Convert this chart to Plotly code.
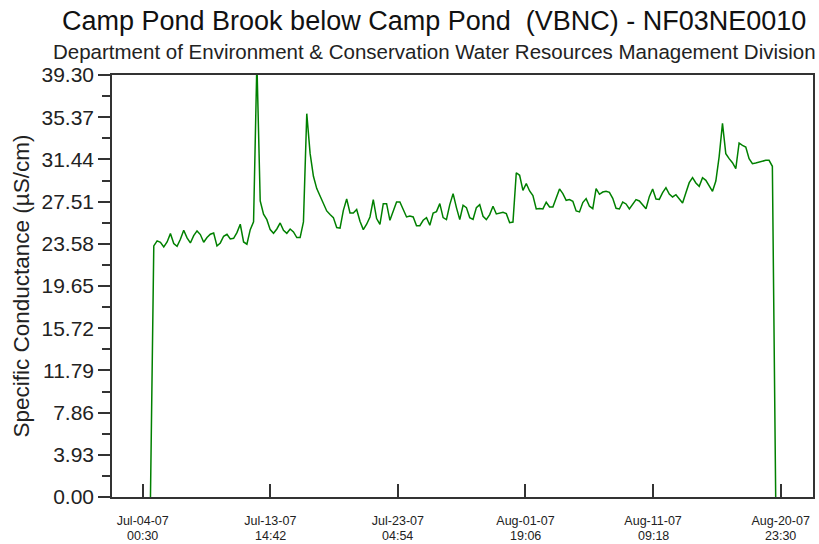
import pandas as pd
import plotly.graph_objects as go

# Specific conductance (uS/cm), one reading every 6 hours from the first record
first_reading = "2007-07-04 14:30"
step_hours = 6

cond_jul04_jul16 = [
    0.00, 23.38, 23.85, 23.72, 23.29, 23.75, 24.53, 23.60, 23.35, 24.00,
    24.84, 24.13, 23.66, 24.34, 24.78, 24.44, 23.72, 24.16, 24.47, 24.59,
    23.38, 23.66, 24.28, 24.47, 24.03, 24.09, 24.62, 25.40, 23.75, 23.54,
    24.90, 25.62, 40.50, 27.57, 26.33, 25.83, 24.90, 24.56, 24.96, 25.52,
    24.84, 24.56, 24.96, 24.68, 24.16, 24.16, 25.62, 35.70,
]
cond_jul16_jul28 = [
    32.00, 29.87, 28.72, 28.01, 27.26, 26.64, 26.30, 26.02, 25.09, 25.03,
    26.70, 27.76, 26.45, 26.45, 26.77, 25.68, 24.90, 25.40, 26.08, 27.70,
    25.93, 25.40, 27.32, 27.32, 25.77, 26.55, 27.48, 27.48, 26.76, 26.08,
    26.17, 26.08, 25.27, 25.27, 25.77, 26.02, 25.31, 26.45, 26.58, 27.32,
    26.02, 25.83, 27.23, 28.25, 26.95, 25.83, 27.17, 26.95,
]
cond_jul28_aug09 = [
    26.02, 25.86, 26.95, 27.23, 26.14, 25.83, 26.30, 27.08, 26.36, 26.42,
    26.52, 26.39, 25.55, 25.60, 30.20, 29.96, 28.56, 29.19, 28.50, 28.07,
    26.83, 26.86, 26.83, 27.45, 27.01, 27.01, 27.85, 28.69, 28.25, 27.63,
    27.70, 27.54, 26.64, 26.55, 27.42, 27.79, 27.08, 26.85, 28.71, 28.19,
    28.40, 28.47, 28.37, 27.81, 26.88, 26.82, 27.47, 27.29,
]
cond_aug09_aug20 = [
    26.82, 27.29, 27.69, 27.57, 27.22, 26.85, 27.97, 28.68, 27.75, 27.72,
    28.34, 28.81, 28.22, 27.94, 28.15, 27.78, 27.38, 28.34, 29.27, 29.74,
    29.24, 28.93, 29.74, 29.49, 28.96, 28.47, 29.43, 31.70, 34.80, 31.97,
    31.51, 31.13, 30.58, 32.97, 32.75, 32.59, 31.51, 31.04, 31.10, 31.20,
    31.26, 31.35, 31.35, 30.80, 0.00,
]

# Axis ticks
y_ticks = [0.00, 3.93, 7.86, 11.79, 15.72, 19.65, 23.58, 27.51, 31.44, 35.37, 39.30]
x_tick_times = ["2007-07-04 00:30", "2007-07-13 14:42", "2007-07-23 04:54",
                "2007-08-01 19:06", "2007-08-11 09:18", "2007-08-20 23:30"]
x_tick_dates = ["Jul-04-07", "Jul-13-07", "Jul-23-07", "Aug-01-07", "Aug-11-07", "Aug-20-07"]
x_tick_clock = ["00:30", "14:42", "04:54", "19:06", "09:18", "23:30"]
x_range = ["2007-07-01 17:06", "2007-08-23 09:48"]

title_text = "Camp Pond Brook below Camp Pond  (VBNC) - NF03NE0010"
subtitle_text = "Department of Environment & Conservation Water Resources Management Division"
y_title = "Specific Conductance (µS/cm)"

conductance = cond_jul04_jul16 + cond_jul16_jul28 + cond_jul28_aug09 + cond_aug09_aug20
times = pd.date_range(first_reading, periods=len(conductance), freq=f"{step_hours}h")

FONT = "Liberation Sans, Arial, sans-serif"
AXIS = "#333333"
TEXT = "#222222"

W, H = 819, 544
M = dict(l=112, r=6, t=75, b=47)
plot_w = W - M["l"] - M["r"]
plot_h = H - M["t"] - M["b"]

fig = go.Figure()
fig.add_trace(go.Scatter(
    x=times, y=conductance, mode="lines",
    line=dict(color="#008000", width=1.5),
    hoverinfo="skip", showlegend=False,
))

minor_vals = [(a + b) / 2 for a, b in zip(y_ticks[:-1], y_ticks[1:])]

fig.update_yaxes(
    range=[0, y_ticks[-1]], automargin=False,
    tickmode="array", tickvals=y_ticks, ticktext=[f"{v:.2f}" for v in y_ticks],
    ticks="outside", ticklen=12, tickwidth=1.5, tickcolor=AXIS,
    minor=dict(tickmode="array", tickvals=minor_vals, ticks="outside",
               ticklen=8, tickwidth=1.5, tickcolor=AXIS, showgrid=False),
    showline=True, linecolor=AXIS, linewidth=1.5, mirror=True,
    showgrid=False, zeroline=False,
    tickfont=dict(family=FONT, size=21, color=TEXT),
    title=dict(text=y_title, font=dict(family=FONT, size=22.5, color=TEXT), standoff=6),
)
fig.update_xaxes(
    type="date", range=x_range, automargin=False,
    tickmode="array", tickvals=x_tick_times, ticktext=x_tick_dates,
    ticks="inside", ticklen=13, tickwidth=1.5, tickcolor=AXIS,
    ticklabelstandoff=11,
    showline=True, linecolor=AXIS, linewidth=1.5, mirror=True,
    showgrid=False, zeroline=False,
    tickfont=dict(family=FONT, size=12.5, color=TEXT),
)

def px_to_paper_x(px):
    return (px - M["l"]) / plot_w

def px_to_paper_y(py):
    return (H - M["b"] - py) / plot_h

# second line of each time-axis label (clock time)
for t, clock in zip(x_tick_times, x_tick_clock):
    fig.add_annotation(
        text=clock, x=t, xref="x", yref="paper", y=px_to_paper_y(536),
        xanchor="center", yanchor="middle", showarrow=False,
        font=dict(family=FONT, size=12.5, color=TEXT),
    )

fig.add_annotation(
    text=title_text, xref="paper", yref="paper",
    x=px_to_paper_x(434), y=px_to_paper_y(21), xanchor="center", yanchor="middle",
    showarrow=False, font=dict(family=FONT, size=27, color="#111111"),
)
fig.add_annotation(
    text=subtitle_text, xref="paper", yref="paper",
    x=px_to_paper_x(434), y=px_to_paper_y(51), xanchor="center", yanchor="middle",
    showarrow=False, font=dict(family=FONT, size=20.5, color=TEXT),
)

fig.update_layout(
    width=W, height=H, margin=M,
    paper_bgcolor="white", plot_bgcolor="white",
    font=dict(family=FONT, color=TEXT),
)

fig.write_html("out.html")
